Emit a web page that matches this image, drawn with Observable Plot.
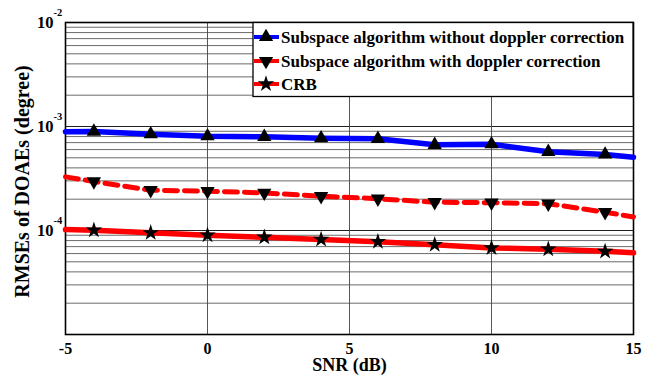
<!DOCTYPE html>
<html><head><meta charset="utf-8">
<script src="https://cdn.jsdelivr.net/npm/d3@7"></script>
<script src="https://cdn.jsdelivr.net/npm/@observablehq/plot@0.6"></script>
<style>
body{margin:0;background:#fff}
#chart{width:660px;height:378px}
</style>
</head><body><div id="chart"></div>
<script>
// ---- data ----
const snr = [-5, -4, -2, 0, 2, 4, 6, 8, 10, 12, 14, 15];
const withoutCorrection = [8.89e-4, 8.95e-4, 8.43e-4, 8.07e-4, 7.96e-4, 7.72e-4, 7.62e-4, 6.67e-4, 6.76e-4, 5.71e-4, 5.38e-4, 5.07e-4];
const withCorrection = [3.28e-4, 2.96e-4, 2.44e-4, 2.39e-4, 2.30e-4, 2.14e-4, 2.02e-4, 1.87e-4, 1.85e-4, 1.81e-4, 1.50e-4, 1.35e-4];
const crb = [1.02e-4, 1.007e-4, 9.5e-5, 9.0e-5, 8.6e-5, 8.2e-5, 7.8e-5, 7.3e-5, 6.8e-5, 6.6e-5, 6.3e-5, 6.1e-5];
const markerSnr = [-4, -2, 0, 2, 4, 6, 8, 10, 12, 14];
const seriesNames = ["Subspace algorithm without doppler correction", "Subspace algorithm with doppler correction", "CRB"];
const xTicks = [-5, 0, 5, 10, 15];
const xGrid = [0, 5, 10];
const yTicks = [1e-2, 1e-3, 1e-4];
const yTickExp = ["-2", "-3", "-4"];
const xLabel = "SNR (dB)";
const yLabel = "RMSEs of DOAEs (degree)";

const font = "'Liberation Serif', 'Times New Roman', serif";

const rows = (vals) => snr.map((x, i) => ({x, y: vals[i]}));
const s1 = rows(withoutCorrection), s2 = rows(withCorrection), s3 = rows(crb);
const mk = (r) => r.filter(d => markerSnr.includes(d.x));

const minorGrid = [];
for (const dec of [1e-5, 1e-4, 1e-3]) for (let m = 2; m <= 9; m++) minorGrid.push(m * dec);
const majorGrid = [1e-4, 1e-3];

const yTickRows = yTicks.map((v, i) => ({v, e: yTickExp[i]}));

const triR = 5.3, starR = 5.2;

const chart = Plot.plot({
  width: 660, height: 378,
  marginLeft: 65, marginRight: 27, marginTop: 22, marginBottom: 44,
  style: {fontFamily: font, background: "white", color: "black"},
  x: {domain: [-5, 15]},
  y: {type: "log", domain: [1e-5, 1e-2]},
  marks: [
    Plot.ruleY(minorGrid, {stroke: "#5a5a5a", strokeWidth: 0.9}),
    Plot.ruleY(majorGrid, {stroke: "#222", strokeWidth: 1}),
    Plot.ruleX(xGrid, {stroke: "#444", strokeWidth: 0.9}),
    Plot.frame({stroke: "black", strokeWidth: 1.6}),
    Plot.axisX({ticks: xTicks, tickFormat: d => String(d), tickSize: 0, tickPadding: 8, fontSize: 16, fontWeight: "bold", label: null, fill: "black"}),
    Plot.axisY({ticks: [], label: null}),
    Plot.text(yTickRows, {x: -5, y: "v", text: () => "10", textAnchor: "end", dx: -12, dy: 0, fontSize: 16.5, fontWeight: "bold", fill: "black"}),
    Plot.text(yTickRows, {x: -5, y: "v", text: "e", textAnchor: "start", dx: -12, dy: -9.5, fontSize: 10.5, fontWeight: "bold", fill: "black"}),
    Plot.text([xLabel], {frameAnchor: "bottom", text: d => d, lineAnchor: "middle", textAnchor: "middle", dy: 31, fontSize: 18, fontWeight: "bold", fill: "black"}),
    Plot.text([yLabel], {frameAnchor: "left", text: d => d, rotate: -90, lineAnchor: "middle", textAnchor: "middle", dx: -43, dy: 3, fontSize: 20, fontWeight: "bold", fill: "black"}),
    Plot.line(s1, {x: "x", y: "y", stroke: "#0000ff", strokeWidth: 5.5}),
    Plot.line(s2, {x: "x", y: "y", stroke: "#ff0000", strokeWidth: 5, strokeDasharray: "13,7"}),
    Plot.line(s3, {x: "x", y: "y", stroke: "#ff0000", strokeWidth: 5.5}),
    Plot.dot(mk(s1), {x: "x", y: "y", symbol: "triangle", r: triR, fill: "black", stroke: "none"}),
    Plot.dot(mk(s2), {x: "x", y: "y", symbol: "triangle", rotate: 180, r: triR, fill: "black", stroke: "none"}),
    Plot.dot(mk(s3), {x: "x", y: "y", symbol: "star", r: starR, fill: "black", stroke: "none"})
  ]
});
document.getElementById("chart").appendChild(chart);

// ---- legend overlay ----
const svg = d3.select(chart);
const lg = svg.append("g").attr("font-family", font).attr("text-anchor", "start");
lg.append("rect").attr("x", 253).attr("y", 22.5).attr("width", 380).attr("height", 74)
  .attr("fill", "white").attr("stroke", "black").attr("stroke-width", 1.3);
const legendItems = [
  {name: seriesNames[0], color: "#0000ff", sym: d3.symbolTriangle, rot: 0, r: triR},
  {name: seriesNames[1], color: "#ff0000", sym: d3.symbolTriangle, rot: 180, r: triR},
  {name: seriesNames[2], color: "#ff0000", sym: d3.symbolStar, rot: 0, r: starR}
];
legendItems.forEach((it, i) => {
  const cy = [37, 61, 84][i];
  lg.append("line").attr("x1", 254).attr("x2", 279).attr("y1", cy).attr("y2", cy)
    .attr("stroke", it.color).attr("stroke-width", 4);
  lg.append("path").attr("d", d3.symbol(it.sym, it.r * it.r * Math.PI)())
    .attr("transform", `translate(266,${cy}) rotate(${it.rot})`).attr("fill", "black");
  lg.append("text").attr("x", 281).attr("y", cy).attr("dy", "0.35em").attr("text-anchor", "start")
    .attr("font-size", 17).attr("font-weight", "bold").attr("fill", "black").text(it.name);
});
</script>
</body></html>
